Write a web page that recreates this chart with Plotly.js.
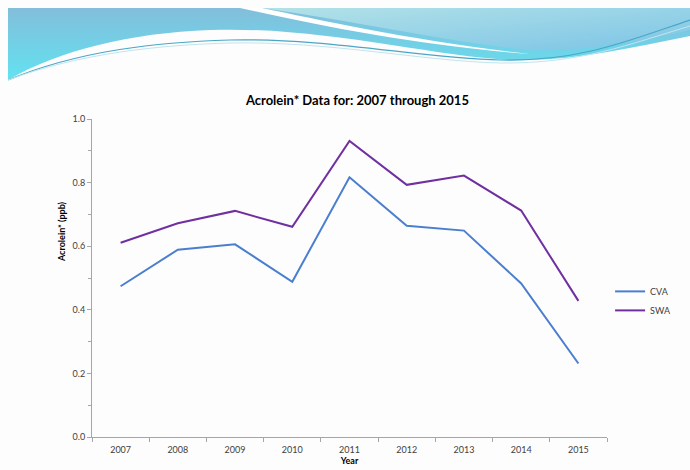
<!DOCTYPE html>
<html><head><meta charset="utf-8">
<script src="https://cdn.plot.ly/plotly-3.0.1.min.js"></script>
<style>
html,body{margin:0;padding:0;background:#fdfdfd;}
#wrap{position:relative;width:690px;height:470px;overflow:hidden;}
#bg{position:absolute;left:0;top:0;}
#chart{position:absolute;left:0;top:0;width:690px;height:470px;}
</style></head>
<body>
<div id="wrap">
<svg id="bg" width="690" height="470" xmlns="http://www.w3.org/2000/svg">
  <defs>
    <linearGradient id="g1" x1="0" y1="0" x2="0" y2="1">
      <stop offset="0" stop-color="#82bedb"/>
      <stop offset="1" stop-color="#62e2f0"/>
    </linearGradient>
    <linearGradient id="g2" x1="0" y1="0" x2="1" y2="1">
      <stop offset="0" stop-color="#b3e2e8"/>
      <stop offset="1" stop-color="#7cc4e6"/>
    </linearGradient>
  </defs>
  <path d="M8,8 L690,8 L690,36 C630,48 570,62 510,60 C430,56 320,26 210,30 C130,33 60,50 8,80 Z" fill="url(#g1)"/>
  <path d="M262,8 L690,8 L690,30 C640,42 580,52 530,50 C460,44 360,22 262,8 Z" fill="url(#g2)"/>
  <path d="M240,8 L262,8 C320,20 420,42 530,54 C420,46 320,26 240,8 Z" fill="#ffffff"/>
  <path d="M8,80 C80,50 160,42 230,40 C330,38 420,58 500,60 C580,62 630,40 690,20" stroke="#4aa6c8" stroke-width="1.2" fill="none"/>
  <path d="M8,80 C80,53 160,45 230,43 C330,41 420,61 500,63 C580,64 630,44 690,26" stroke="#bfe6ee" stroke-width="1" fill="none"/>
</svg>
<div id="chart"></div>
</div>
<script>
var years = ['2007','2008','2009','2010','2011','2012','2013','2014','2015'];
var cva = [0.474, 0.589, 0.606, 0.488, 0.817, 0.664, 0.649, 0.483, 0.231];
var swa = [0.611, 0.672, 0.711, 0.661, 0.931, 0.793, 0.822, 0.712, 0.428];

var font = 'Lato, "Open Sans", "Liberation Sans", sans-serif';
var traces = [
  {x: years, y: cva, name: 'CVA', type: 'scatter', mode: 'lines', line: {color: '#4a7fd0', width: 2}},
  {x: years, y: swa, name: 'SWA', type: 'scatter', mode: 'lines', line: {color: '#7030a0', width: 2}}
];
var layout = {
  width: 690, height: 470,
  paper_bgcolor: 'rgba(0,0,0,0)', plot_bgcolor: 'rgba(0,0,0,0)',
  margin: {l: 92, r: 83, t: 119, b: 33},
  font: {family: font, size: 9, color: '#404040'},
  title: {text: '<b>Acrolein* Data for: 2007 through 2015</b>', font: {family: font, size: 13, color: '#000'},
          x: 0.518, xanchor: 'center', y: 0.787, yanchor: 'middle', yref: 'container'},
  xaxis: {type: 'category', range: [-0.5, 8.5], showline: true, linecolor: '#a6a6a6', linewidth: 1,
          ticks: 'outside', tickson: 'boundaries', ticklen: 4, tickcolor: '#a6a6a6', showgrid: false, zeroline: false,
          ticklabelstandoff: 4,
          tickfont: {size: 9, color: '#404040'},
          title: {text: '<b>Year</b>', font: {size: 9, color: '#000'}, standoff: 2}},
  yaxis: {range: [0, 1], dtick: 0.2, tickformat: '.1f', showline: true, linecolor: '#a6a6a6', linewidth: 1,
          ticks: 'outside', ticklen: 4, tickcolor: '#a6a6a6', showgrid: false, zeroline: false,
          minor: {dtick: 0.1, ticks: 'outside', ticklen: 3, tickcolor: '#a6a6a6', showgrid: false},
          tickfont: {size: 9, color: '#404040'}},
  annotations: [{text: '<b>Acrolein* (ppb)</b>', textangle: -90, xref: 'paper', yref: 'paper',
                 x: -0.058, y: 0.645, xanchor: 'center', yanchor: 'middle', showarrow: false,
                 font: {family: font, size: 9, color: '#000'}}],
  showlegend: true,
  legend: {x: 1.006, y: 0.428, xanchor: 'left', yanchor: 'middle', bgcolor: 'rgba(0,0,0,0)',
           font: {size: 9, color: '#404040'}, itemwidth: 30, tracegroupgap: 0}
};
Plotly.newPlot('chart', traces, layout, {displayModeBar: false, staticPlot: true});
</script>
</body></html>
